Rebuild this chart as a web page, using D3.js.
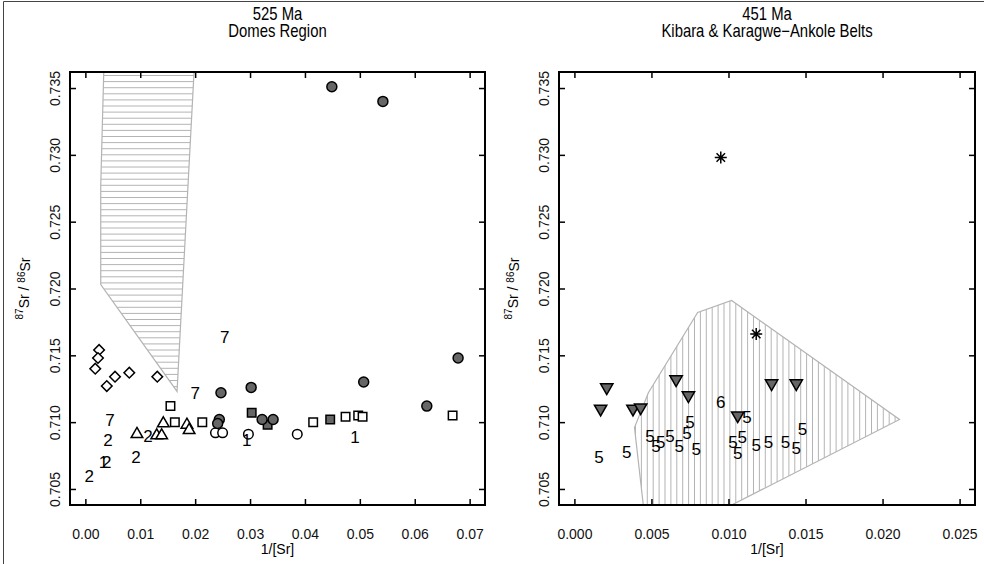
<!DOCTYPE html>
<html>
<head>
<meta charset="utf-8">
<script src="https://cdn.jsdelivr.net/npm/d3@7"></script>
<style>
  body { margin: 0; background: #fff; }
  svg { display: block; font-family: "Liberation Sans", Arial, Helvetica, sans-serif; }
</style>
</head>
<body>
<svg id="chart" width="984" height="564"></svg>
<script>
// values: [1/Sr, 87Sr/86Sr]
const yTicks = [0.705, 0.710, 0.715, 0.720, 0.725, 0.730, 0.735];
const domesXTicks = [0, 0.01, 0.02, 0.03, 0.04, 0.05, 0.06, 0.07];
const kibaraXTicks = [0, 0.005, 0.010, 0.015, 0.020, 0.025];

// 525 Ma - Domes Region
const domesTitle = ['525 Ma', 'Domes Region'];
const domesField = [[0.0034, 0.7370], [0.0199, 0.7370], [0.0167, 0.7123], [0.0028, 0.7203], [0.0028, 0.7277]];
const domesDiamonds = [[0.0025, 0.7154], [0.0023, 0.7148], [0.0018, 0.7140], [0.0039, 0.7127],
  [0.0054, 0.7134], [0.0080, 0.7137], [0.0131, 0.7134]];
const domesTriangles = [[0.0094, 0.7091], [0.0130, 0.7090], [0.0139, 0.7090], [0.0142, 0.7099],
  [0.0185, 0.7098], [0.0189, 0.7094]];
const domesOpenSquares = [[0.0155, 0.7112], [0.0163, 0.7100], [0.0213, 0.7100], [0.0415, 0.7100],
  [0.0474, 0.7104], [0.0497, 0.7105], [0.0505, 0.7104], [0.0669, 0.7105]];
const domesOpenCircles = [[0.0237, 0.7092], [0.0250, 0.7092], [0.0297, 0.7091], [0.0386, 0.7091]];
const domesGreySquares = [[0.0303, 0.7107], [0.0332, 0.7098], [0.0446, 0.7102]];
const domesGreyCircles = [[0.0449, 0.7351], [0.0542, 0.7340], [0.0679, 0.7148], [0.0507, 0.7130],
  [0.0622, 0.7112], [0.0247, 0.7122], [0.0302, 0.7126], [0.0244, 0.7102], [0.0241, 0.7099],
  [0.0322, 0.7102], [0.0342, 0.7102]];
const domesNumbers = [['7', 0.0254, 0.7164], ['7', 0.0200, 0.7122], ['7', 0.0045, 0.7102],
  ['2', 0.0114, 0.7090], ['2', 0.0041, 0.7087], ['2', 0.0092, 0.7074], ['2', 0.0039, 0.7070],
  ['2', 0.0007, 0.7060], ['1', 0.0033, 0.7070], ['1', 0.0294, 0.7087], ['1', 0.0491, 0.7089]];

// 451 Ma - Kibara & Karagwe-Ankole Belts
const kibaraTitle = ['451 Ma', 'Kibara & Karagwe\u2212Ankole Belts'];
const kibaraField = [[0.0045, 0.7035], [0.0039, 0.7096], [0.0048, 0.7122], [0.0080, 0.7182],
  [0.0102, 0.7191], [0.0211, 0.7102], [0.0097, 0.7035]];
const kibaraStars = [[0.0095, 0.7298], [0.0118, 0.7166]];
const kibaraTriangles = [[0.0021, 0.7126], [0.0017, 0.7110], [0.0038, 0.7110], [0.0043, 0.7111],
  [0.0066, 0.7132], [0.0074, 0.7120], [0.0106, 0.7105], [0.0128, 0.7129], [0.0144, 0.7129]];
const kibaraNumbers = [['6', 0.0095, 0.7115],
  ['5', 0.0016, 0.7074], ['5', 0.0034, 0.7078], ['5', 0.0049, 0.7090], ['5', 0.0053, 0.7082],
  ['5', 0.0056, 0.7085], ['5', 0.0062, 0.7090], ['5', 0.0068, 0.7082], ['5', 0.0075, 0.7100],
  ['5', 0.0073, 0.7092], ['5', 0.0079, 0.7080], ['5', 0.0103, 0.7085], ['5', 0.0109, 0.7089],
  ['5', 0.0106, 0.7077], ['5', 0.0112, 0.7104], ['5', 0.0118, 0.7083], ['5', 0.0126, 0.7085],
  ['5', 0.0137, 0.7085], ['5', 0.0148, 0.7095], ['5', 0.0144, 0.7081]];

const svg = d3.select('#chart');

// thin frame round the whole figure (left and top only show)
svg.append('path').attr('d', 'M3.5,564V1.5H984').attr('fill', 'none').attr('stroke', '#444');

const y = d3.scaleLinear().domain([0.7038, 0.7362]).range([505, 72]);

// R pch 8: plus and times together
const asterisk = {
  draw(ctx, size) {
    const r = Math.sqrt(size) / 2, d = r * Math.SQRT1_2;
    ctx.moveTo(-r, 0); ctx.lineTo(r, 0);
    ctx.moveTo(0, -r); ctx.lineTo(0, r);
    ctx.moveTo(-d, -d); ctx.lineTo(d, d);
    ctx.moveTo(-d, d); ctx.lineTo(d, -d);
  }
};

function symbols(g, data, x, type, size, fill, rotate) {
  g.selectAll(null).data(data).enter().append('path')
    .attr('transform', d => `translate(${x(d[0])},${y(d[1])})` + (rotate ? ` rotate(${rotate})` : ''))
    .attr('d', d3.symbol().type(type).size(size))
    .attr('fill', fill)
    .attr('stroke', '#000')
    .attr('stroke-width', 1.5);
}

function numbers(g, data, x) {
  g.selectAll(null).data(data).enter().append('text')
    .attr('x', d => x(d[1]))
    .attr('y', d => y(d[2]))
    .attr('dy', '0.36em')
    .attr('text-anchor', 'middle')
    .style('font-size', '17px')
    .text(d => d[0]);
}

function panel(id, x, xTicks, xFormat, title, field, hatchDir) {
  const [x0, x1] = x.range();
  const [yb, yt] = y.range();
  const cx = (x0 + x1) / 2;
  const defs = svg.append('defs');
  defs.append('clipPath').attr('id', id + '-plot')
    .append('rect').attr('x', x0).attr('y', yt).attr('width', x1 - x0).attr('height', yb - yt);

  const line = d3.line().x(d => x(d[0])).y(d => y(d[1]));
  defs.append('clipPath').attr('id', id + '-field')
    .append('path').attr('d', line(field) + 'Z');

  const plot = svg.append('g').attr('clip-path', `url(#${id}-plot)`);

  // hatched field
  const px = field.map(d => x(d[0])), py = field.map(d => y(d[1]));
  const hatch = plot.append('g').attr('clip-path', `url(#${id}-field)`)
    .attr('stroke', '#b4b4b4').attr('stroke-width', 1);
  if (hatchDir === 'h') {
    hatch.selectAll('line').data(d3.range(d3.min(py), d3.max(py), 6.1)).enter().append('line')
      .attr('x1', d3.min(px)).attr('x2', d3.max(px)).attr('y1', d => d + 2).attr('y2', d => d + 2);
  } else {
    hatch.selectAll('line').data(d3.range(d3.min(px), d3.max(px), 5.9)).enter().append('line')
      .attr('y1', d3.min(py)).attr('y2', d3.max(py)).attr('x1', d => d + 1).attr('x2', d => d + 1);
  }
  plot.append('path').attr('d', line(field) + 'Z')
    .attr('fill', 'none').attr('stroke', '#b4b4b4').attr('stroke-width', 1.2);

  // axes, ticks pointing inward as in the original
  svg.append('g').attr('transform', `translate(0,${yb})`)
    .call(d3.axisBottom(x).tickValues(xTicks).tickFormat(xFormat).tickSizeInner(-6).tickSizeOuter(0).tickPadding(24));
  svg.append('g').attr('transform', `translate(0,${yt})`)
    .call(d3.axisTop(x).tickValues(xTicks).tickFormat('').tickSizeInner(-6).tickSizeOuter(0));
  svg.append('g').attr('transform', `translate(${x1},0)`)
    .call(d3.axisRight(y).tickValues(yTicks).tickFormat('').tickSizeInner(-6).tickSizeOuter(0));
  const left = svg.append('g').attr('transform', `translate(${x0},0)`)
    .call(d3.axisLeft(y).tickValues(yTicks).tickFormat(d3.format('.3f')).tickSizeInner(-6).tickSizeOuter(0));
  left.selectAll('text')
    .attr('transform', 'rotate(-90)')
    .attr('x', 0).attr('y', -10).attr('dy', null)
    .attr('text-anchor', 'middle');
  svg.selectAll('.domain').remove();
  svg.selectAll('.tick line').attr('stroke', '#000').attr('stroke-width', 1.5);
  svg.selectAll('.tick text').style('font-size', '14px').attr('fill', '#111');

  svg.append('rect').attr('x', x0).attr('y', yt).attr('width', x1 - x0).attr('height', yb - yt)
    .attr('fill', 'none').attr('stroke', '#000').attr('stroke-width', 2);

  // titles (condensed face in the original) and axis labels
  title.forEach((s, i) => {
    svg.append('text')
      .attr('transform', `translate(${cx},${20 + i * 16.5}) scale(0.85,1)`)
      .attr('text-anchor', 'middle')
      .style('font-size', '17.5px')
      .text(s);
  });

  svg.append('text').attr('x', cx).attr('y', 554).attr('text-anchor', 'middle')
    .style('font-size', '14px').text('1/[Sr]');

  const yl = svg.append('text')
    .attr('transform', `translate(${x0 - 43},${(yb + yt) / 2}) rotate(-90)`)
    .attr('text-anchor', 'middle').attr('dy', '0.35em').style('font-size', '14px');
  yl.append('tspan').attr('dy', '-0.4em').style('font-size', '10px').text('87');
  yl.append('tspan').attr('dy', '0.4em').text('Sr / ');
  yl.append('tspan').attr('dy', '-0.4em').style('font-size', '10px').text('86');
  yl.append('tspan').attr('dy', '0.4em').text('Sr');

  return plot;
}

const xDomes = d3.scaleLinear().domain([-0.0028, 0.0728]).range([70, 485]);
const xKibara = d3.scaleLinear().domain([-0.001, 0.026]).range([559, 975]);

const pDomes = panel('domes', xDomes, domesXTicks, d3.format('.2f'), domesTitle, domesField, 'h');
symbols(pDomes, domesDiamonds, xDomes, d3.symbolSquare, 56, '#fff', 45);
symbols(pDomes, domesTriangles, xDomes, d3.symbolTriangle, 58, '#fff');
symbols(pDomes, domesOpenSquares, xDomes, d3.symbolSquare, 72, '#fff');
symbols(pDomes, domesOpenCircles, xDomes, d3.symbolCircle, 72, '#fff');
symbols(pDomes, domesGreySquares, xDomes, d3.symbolSquare, 72, '#666');
symbols(pDomes, domesGreyCircles, xDomes, d3.symbolCircle, 78, '#666');
numbers(pDomes, domesNumbers, xDomes);

const pKibara = panel('kibara', xKibara, kibaraXTicks, d3.format('.3f'), kibaraTitle, kibaraField, 'v');
symbols(pKibara, kibaraTriangles, xKibara, d3.symbolTriangle, 66, '#666', 180);
symbols(pKibara, kibaraStars, xKibara, asterisk, 144, 'none');
numbers(pKibara, kibaraNumbers, xKibara);
</script>
</body>
</html>
